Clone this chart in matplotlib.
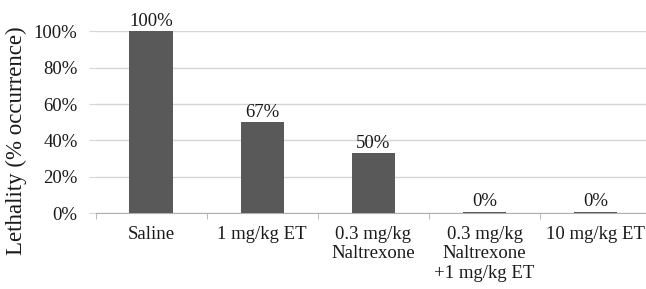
import numpy as np
import matplotlib
matplotlib.use("Agg")
from matplotlib import pyplot as plt

# Data
groups = ["Saline", "1 mg/kg ET", "0.3 mg/kg\nNaltrexone",
          "0.3 mg/kg\nNaltrexone\n+1 mg/kg ET", "10 mg/kg ET"]
bar_heights = [100, 50, 33, 0.9, 0.9]
bar_labels = ["100%", "67%", "50%", "0%", "0%"]
yticks = [0, 20, 40, 60, 80, 100]

plt.rcParams['font.family'] = ['Liberation Serif', 'DejaVu Serif']

fig = plt.figure(figsize=(6.46, 2.89), dpi=100)
ax = fig.add_axes([0.148, 0.262, 0.86, 0.63])

x = np.arange(len(groups))
ax.bar(x, bar_heights, width=0.39, color='#595959', zorder=3)

for xi, h, lab in zip(x, bar_heights, bar_labels):
    ax.text(xi, h + 0.8, lab, ha='center', va='bottom', fontsize=13.5, color='#1a1a1a')

ax.set_xlim(-0.5, len(groups) - 0.5)
ax.set_ylim(0, 100)
ax.set_yticks(yticks)
ax.set_yticklabels(["%d%%" % t for t in yticks], fontsize=13.5, color='#1a1a1a')
ax.yaxis.grid(True, color='#d6d6d6', linewidth=1, zorder=0)

ax.set_xticks(x)
ax.set_xticklabels(groups, fontsize=13.5, linespacing=1.2, color='#1a1a1a')
ax.set_xticks(np.arange(len(groups) + 1) - 0.5, minor=True)
ax.tick_params(axis='x', which='major', length=0, pad=9)
ax.tick_params(axis='x', which='minor', length=4, color='#b0b0b0')
ax.tick_params(axis='y', length=5, color='#d6d6d6', pad=8)

for s in ['top', 'right', 'left']:
    ax.spines[s].set_visible(False)
ax.spines['bottom'].set_color('#b0b0b0')

fig.text(16 / 646, 1 - 141 / 289, "Lethality (% occurrence)", rotation=90,
         ha='center', va='center', fontsize=16.5, color='#1a1a1a')

fig.savefig("out.png", dpi=100)
